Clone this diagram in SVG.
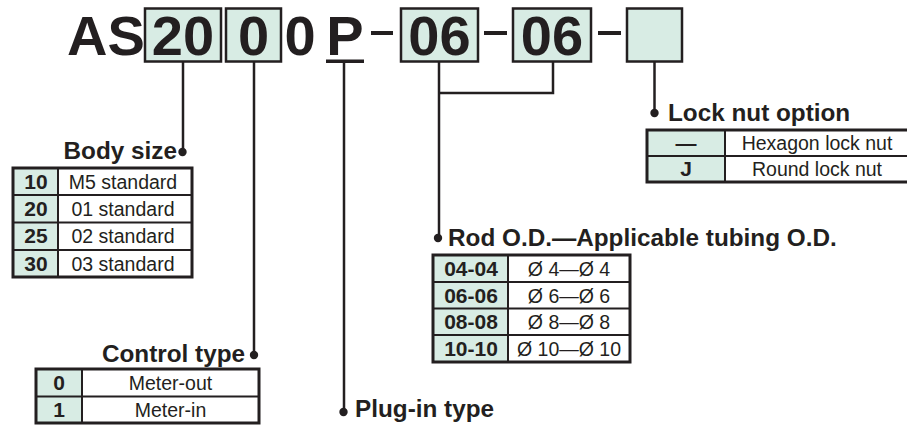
<svg xmlns="http://www.w3.org/2000/svg" width="907" height="430" viewBox="0 0 907 430">
<style>
text{font-family:"Liberation Sans",Arial,Helvetica,sans-serif;fill:#231f20}
.big{font-size:56px;font-weight:bold;text-anchor:middle}
.hd{font-size:24.3px;font-weight:bold}
.code{font-size:21px;font-weight:bold;text-anchor:middle}
.desc{font-size:19.5px;text-anchor:middle}
.box{fill:#d8ece4;stroke:#231f20;stroke-width:2.5}
.g{fill:#d8ece4}
.w{fill:#fff}
.tb{fill:none;stroke:#231f20;stroke-width:3}
.ln{stroke:#231f20;stroke-width:2;fill:none}
.cn{stroke:#231f20;stroke-width:2.5;fill:none}
.dot{fill:#231f20}
</style>
<rect width="907" height="430" fill="#fff"/>

<g id="title">
  <text x="106" y="55" class="big">AS</text>
  <rect class="box" x="145" y="8.5" width="76" height="53"/>
  <text x="183" y="55" class="big">20</text>
  <rect class="box" x="226" y="8.5" width="55" height="53"/>
  <text x="253.5" y="55" class="big">0</text>
  <text x="300" y="55" class="big">0</text>
  <text x="345" y="55" class="big">P</text>
  <rect x="326" y="59.5" width="38" height="3.5" fill="#231f20"/>
  <rect x="371" y="31" width="22" height="4" fill="#231f20"/>
  <rect class="box" x="401" y="8.5" width="77" height="53"/>
  <text x="439.5" y="55" class="big">06</text>
  <rect x="484" y="31" width="23" height="4" fill="#231f20"/>
  <rect class="box" x="513" y="8.5" width="78" height="53"/>
  <text x="552" y="55" class="big">06</text>
  <rect x="598" y="31" width="23" height="4" fill="#231f20"/>
  <rect class="box" x="627" y="8.5" width="55" height="53"/>
</g>

<g id="connectors">
  <line class="cn" x1="183" y1="62" x2="183" y2="152"/>
  <circle class="dot" cx="182.5" cy="152" r="4.2"/>
  <line class="cn" x1="254" y1="62" x2="254" y2="355"/>
  <circle class="dot" cx="254" cy="355" r="4.2"/>
  <line class="cn" x1="344" y1="62" x2="344" y2="412"/>
  <circle class="dot" cx="343.5" cy="412" r="4.2"/>
  <polyline class="cn" points="553,62 553,93 439,93"/>
  <line class="cn" x1="439" y1="62" x2="439" y2="238"/>
  <circle class="dot" cx="438" cy="238" r="4.2"/>
  <line class="cn" x1="654.5" y1="62" x2="654.5" y2="113"/>
  <circle class="dot" cx="654.5" cy="113" r="4.2"/>
</g>

<g id="body-size">
  <text x="177" y="159" class="hd" text-anchor="end">Body size</text>
  <rect class="g" x="13" y="168" width="45" height="109"/>
  <rect class="w" x="58" y="168" width="134" height="109"/>
  <line class="ln" x1="13" y1="195" x2="192" y2="195"/>
  <line class="ln" x1="13" y1="222.5" x2="192" y2="222.5"/>
  <line class="ln" x1="13" y1="250" x2="192" y2="250"/>
  <line class="ln" x1="58" y1="168" x2="58" y2="277"/>
  <rect class="tb" x="13" y="168" width="179" height="109"/>
  <text x="36" y="188.5" class="code">10</text>
  <text x="36" y="216" class="code">20</text>
  <text x="36" y="243" class="code">25</text>
  <text x="36" y="270.5" class="code">30</text>
  <text x="123" y="188.5" class="desc">M5 standard</text>
  <text x="123" y="216" class="desc">01 standard</text>
  <text x="123" y="243" class="desc">02 standard</text>
  <text x="123" y="270.5" class="desc">03 standard</text>
</g>

<g id="control-type">
  <text x="245" y="362" class="hd" text-anchor="end">Control type</text>
  <rect class="g" x="36" y="369" width="46" height="54"/>
  <rect class="w" x="82" y="369" width="177" height="54"/>
  <line class="ln" x1="36" y1="396.5" x2="259" y2="396.5"/>
  <line class="ln" x1="82" y1="369" x2="82" y2="423"/>
  <rect class="tb" x="36" y="369" width="223" height="54"/>
  <text x="59" y="390" class="code">0</text>
  <text x="59" y="417" class="code">1</text>
  <text x="170.5" y="390" class="desc">Meter-out</text>
  <text x="170.5" y="417" class="desc">Meter-in</text>
</g>

<g id="plug-in-type">
  <text x="355" y="417" class="hd">Plug-in type</text>
</g>

<g id="rod-od">
  <text x="448" y="246" class="hd">Rod O.D.—Applicable tubing O.D.</text>
  <rect class="g" x="433" y="255" width="75" height="107"/>
  <rect class="w" x="508" y="255" width="122" height="107"/>
  <line class="ln" x1="433" y1="282" x2="630" y2="282"/>
  <line class="ln" x1="433" y1="308.5" x2="630" y2="308.5"/>
  <line class="ln" x1="433" y1="335" x2="630" y2="335"/>
  <line class="ln" x1="508" y1="255" x2="508" y2="362"/>
  <rect class="tb" x="433" y="255" width="197" height="107"/>
  <text x="471" y="276" class="code">04-04</text>
  <text x="471" y="302.5" class="code">06-06</text>
  <text x="471" y="329" class="code">08-08</text>
  <text x="471" y="355.5" class="code">10-10</text>
  <text x="569" y="276" class="desc">Ø 4—Ø 4</text>
  <text x="569" y="302.5" class="desc">Ø 6—Ø 6</text>
  <text x="569" y="329" class="desc">Ø 8—Ø 8</text>
  <text x="569" y="355.5" class="desc">Ø 10—Ø 10</text>
</g>

<g id="lock-nut">
  <text x="668" y="121" class="hd">Lock nut option</text>
  <rect class="g" x="647" y="130" width="78" height="52"/>
  <rect class="w" x="725" y="130" width="185" height="52"/>
  <line class="ln" x1="647" y1="156" x2="907" y2="156"/>
  <line class="ln" x1="725" y1="130" x2="725" y2="182"/>
  <rect class="tb" x="647" y="130" width="265" height="52"/>
  <text x="686" y="150" class="code">—</text>
  <text x="686" y="176" class="code">J</text>
  <text x="817" y="150" class="desc">Hexagon lock nut</text>
  <text x="817" y="176" class="desc">Round lock nut</text>
</g>
</svg>
